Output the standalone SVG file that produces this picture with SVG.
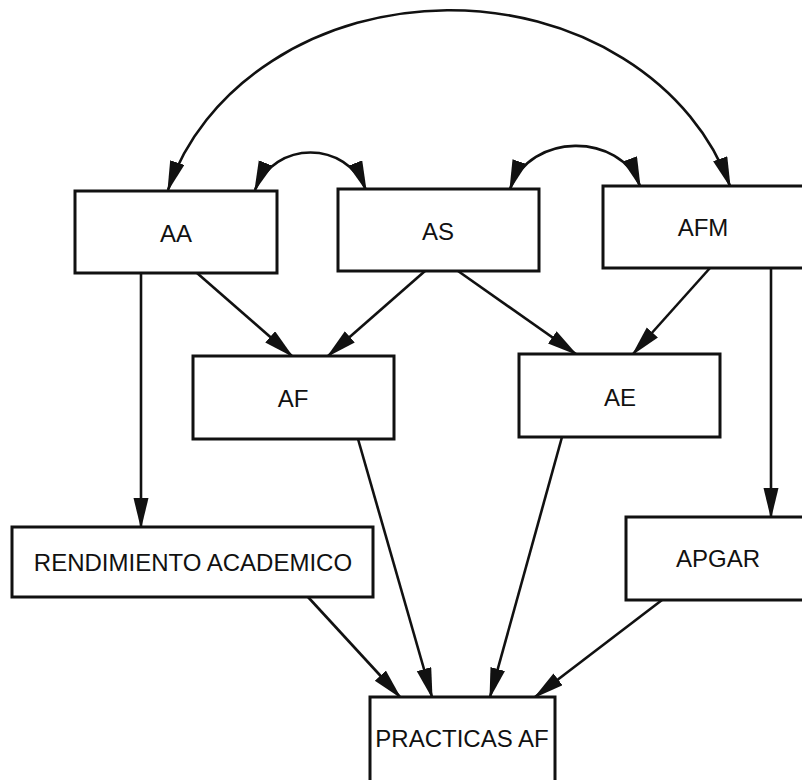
<svg xmlns="http://www.w3.org/2000/svg" width="802" height="780" viewBox="0 0 802 780">
<style>
.box{fill:#fff;stroke:#111;stroke-width:3}
.lbl{font-family:"Liberation Sans",Arial,sans-serif;font-size:24px;fill:#111;text-anchor:middle}
.c{fill:none;stroke:#111;stroke-width:2.6}
</style>
<defs>
<marker id="ah" markerUnits="userSpaceOnUse" markerWidth="32" markerHeight="16" refX="29" refY="7.5" orient="auto-start-reverse">
<path d="M0,0 L31,7.5 L0,15 z" fill="#111"/>
</marker>
</defs>
<rect width="802" height="780" fill="#fff"/>
<g id="connectors">
<path class="c" d="M168,190 A293,248 0 0 1 730,186" marker-start="url(#ah)" marker-end="url(#ah)"/>
<path class="c" d="M255,190 C275,140 346,140 366,190" marker-start="url(#ah)" marker-end="url(#ah)"/>
<path class="c" d="M510,189 C530,132 620,132 640,186" marker-start="url(#ah)" marker-end="url(#ah)"/>
<line class="c" x1="197" y1="273" x2="292" y2="356" marker-end="url(#ah)"/>
<line class="c" x1="425" y1="271" x2="328" y2="356" marker-end="url(#ah)"/>
<line class="c" x1="458" y1="271" x2="576" y2="354" marker-end="url(#ah)"/>
<line class="c" x1="710" y1="268" x2="633" y2="354" marker-end="url(#ah)"/>
<line class="c" x1="141" y1="273" x2="141" y2="527" marker-end="url(#ah)"/>
<line class="c" x1="771" y1="268" x2="771" y2="517" marker-end="url(#ah)"/>
<line class="c" x1="308" y1="597" x2="400" y2="697" marker-end="url(#ah)"/>
<line class="c" x1="358" y1="439" x2="432" y2="697" marker-end="url(#ah)"/>
<line class="c" x1="562" y1="437" x2="490" y2="697" marker-end="url(#ah)"/>
<line class="c" x1="662" y1="600" x2="535" y2="697" marker-end="url(#ah)"/>
</g>
<g id="AA"><rect class="box" x="75" y="191" width="202" height="82"/><text class="lbl" x="176" y="242">AA</text></g>
<g id="AS"><rect class="box" x="338" y="189" width="201" height="82"/><text class="lbl" x="438" y="240">AS</text></g>
<g id="AFM"><rect class="box" x="603" y="186" width="202" height="82"/><text class="lbl" x="703" y="236">AFM</text></g>
<g id="AF"><rect class="box" x="193" y="356" width="201" height="83"/><text class="lbl" x="293" y="407">AF</text></g>
<g id="AE"><rect class="box" x="519" y="354" width="201" height="83"/><text class="lbl" x="620" y="406">AE</text></g>
<g id="RA"><rect class="box" x="12" y="527" width="361" height="70"/><text class="lbl" x="193" y="571">RENDIMIENTO ACADEMICO</text></g>
<g id="APGAR"><rect class="box" x="626" y="517" width="180" height="83"/><text class="lbl" x="718" y="567">APGAR</text></g>
<g id="PAF"><rect class="box" x="370" y="697" width="185" height="90"/><text class="lbl" x="462" y="747">PRACTICAS AF</text></g>
</svg>
